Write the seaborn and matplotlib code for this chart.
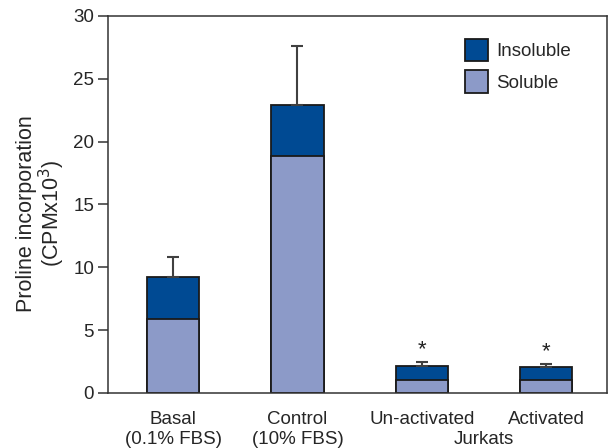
import matplotlib
matplotlib.use("Agg")
import matplotlib.pyplot as plt
import matplotlib.transforms as mtransforms
from matplotlib.patches import Patch
import seaborn as sns
import pandas as pd

# Proline incorporation (CPM x 10^3) per condition
categories = ["Basal\n(0.1% FBS)", "Control\n(10% FBS)", "Un-activated", "Activated"]
soluble = [5.9, 18.85, 1.03, 1.0]
insoluble = [3.3, 4.05, 1.12, 1.07]
error_upper = [1.6, 4.7, 0.32, 0.23]
significant = [False, False, True, True]

INSOLUBLE_COLOR = "#004a93"
SOLUBLE_COLOR = "#8c9ac8"
EDGE = "#1a1a1a"

sns.set_theme(style="white")
plt.rcParams["font.family"] = ["Liberation Sans", "DejaVu Sans"]

totals = [s + i for s, i in zip(soluble, insoluble)]
df = pd.DataFrame({"condition": categories, "soluble": soluble, "total": totals})

fig = plt.figure(figsize=(6.09, 4.48), dpi=100)
ax = fig.add_axes([0.1773, 0.1228, 0.8194, 0.8415])

# Stacked bars: full height in the insoluble colour, soluble portion drawn over it
sns.barplot(data=df, x="condition", y="total", color=INSOLUBLE_COLOR, width=0.42,
            edgecolor=EDGE, linewidth=1.3, saturation=1, ax=ax)
sns.barplot(data=df, x="condition", y="soluble", color=SOLUBLE_COLOR, width=0.42,
            edgecolor=EDGE, linewidth=1.3, saturation=1, ax=ax)

# Upper-only error bars
xs = list(range(len(categories)))
ax.errorbar(xs, totals, yerr=[[0] * len(xs), error_upper], fmt="none",
            ecolor="#404040", elinewidth=1.5, capsize=4.5, capthick=1.5, zorder=1)

for x, tot, err, sig in zip(xs, totals, error_upper, significant):
    if sig:
        ax.text(x, tot + err + 0.15, "*", ha="center", va="bottom", fontsize=16,
                color="#222222")

ax.set_ylim(0, 30)
ax.set_xlim(-0.524, 3.49)
ax.set_yticks([0, 5, 10, 15, 20, 25, 30])
ax.tick_params(axis="y", which="major", direction="out", length=7, width=1.1,
               color="#333333", labelsize=13.5, pad=3, left=True)
ax.tick_params(axis="x", length=0, labelsize=13.5, pad=13)
ax.set_xlabel("")
ax.set_ylabel("Proline incorporation\n(CPMx10$^3$)", fontsize=15.5, linespacing=1.0)
ax.yaxis.set_label_coords(-0.082, 0.477)
for side in ["left", "bottom", "top", "right"]:
    ax.spines[side].set_visible(True)
    ax.spines[side].set_color("#333333")
    ax.spines[side].set_linewidth(1.1)

# Group label beneath the two Jurkat conditions
trans = mtransforms.blended_transform_factory(ax.transData, ax.transAxes)
ax.text(2.5, -0.1247, "Jurkats", transform=trans, ha="center", va="center", fontsize=13.5)

handles = [Patch(facecolor=INSOLUBLE_COLOR, edgecolor=EDGE, linewidth=1.3, label="Insoluble"),
           Patch(facecolor=SOLUBLE_COLOR, edgecolor=EDGE, linewidth=1.3, label="Soluble")]
ax.legend(handles=handles, loc="upper left", bbox_to_anchor=(0.716, 0.94),
          frameon=False, fontsize=13.5, handlelength=1.2, handleheight=1.5,
          handletextpad=0.45, labelspacing=0.45, borderpad=0, borderaxespad=0)

fig.savefig("out.png", dpi=100)
